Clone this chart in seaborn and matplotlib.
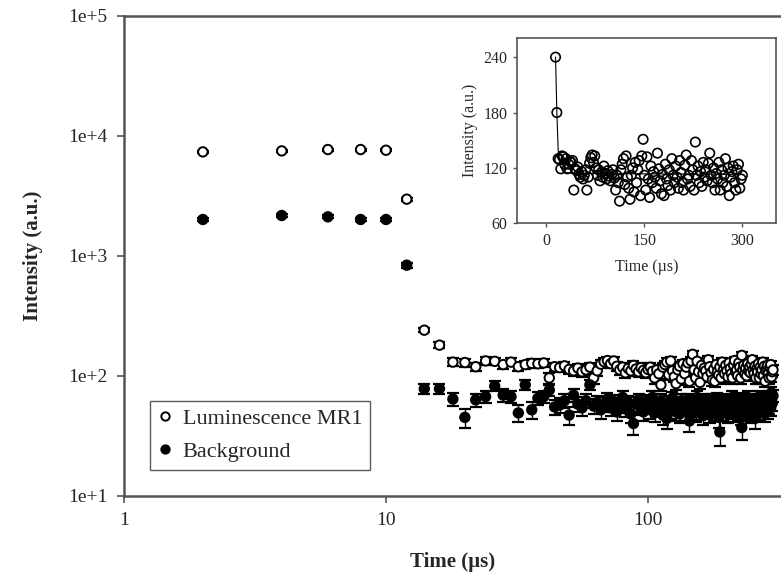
import numpy as np
import pandas as pd
import matplotlib
matplotlib.use("Agg")
import matplotlib.pyplot as plt
import seaborn as sns
from matplotlib.lines import Line2D

# ---------------- data ----------------
early_times = [2, 4, 6, 8, 10, 12]
lum_early = [7360, 7500, 7700, 7700, 7600, 2970]
bg_early = [2010, 2170, 2115, 2010, 2010, 836]
lum_err_early = [150, 150, 150, 150, 150, 90]
bg_err_early = [60, 60, 60, 60, 60, 40]

late_times = list(range(14, 301, 2))
lum_late = [240, 180, 130, 129, 119, 133, 132, 124, 130, 119, 124, 127, 126, 128, 96, 119,
            117, 121, 113, 110, 116, 108, 112, 118, 96, 110, 125, 131, 134, 126, 133, 120,
            112, 118, 106, 115, 110, 122, 114, 108, 117, 111, 106, 113, 118, 109, 96, 112,
            104, 84, 118, 124, 130, 102, 133, 110, 98, 86, 112, 120, 94, 126, 104, 118,
            128, 90, 133, 151, 112, 96, 132, 108, 88, 122, 104, 116, 110, 98, 136, 119,
            106, 92, 113, 90, 124, 108, 101, 118, 96, 130, 112, 104, 122, 110, 98, 128,
            115, 104, 96, 123, 134, 108, 112, 100, 128, 118, 96, 148, 112, 122, 104, 116,
            100, 126, 110, 118, 106, 125, 136, 112, 104, 120, 96, 114, 108, 126, 96, 118,
            104, 112, 130, 100, 120, 90, 110, 116, 122, 104, 96, 118, 124, 98, 108, 112]
bg_late = [78, 78, 64, 45, 63, 67, 82, 69, 67, 49, 84, 52, 65, 67, 76, 55,
           57, 62, 47, 69, 58, 54, 62, 84, 56, 60, 52, 58, 64, 54, 61, 50,
           57, 66, 53, 60, 48, 40, 58, 63, 55, 50, 61, 57, 52, 66, 49, 58,
           54, 62, 47, 56, 44, 60, 52, 65, 55, 50, 59, 48, 62, 54, 57, 50,
           63, 42, 58, 53, 61, 49, 66, 55, 51, 60, 47, 57, 63, 52, 58, 48,
           62, 55, 50, 59, 53, 64, 45, 34, 56, 61, 50, 58, 54, 63, 48, 57,
           60, 52, 66, 55, 49, 59, 62, 51, 56, 64, 47, 37, 58, 53, 61, 55,
           50, 66, 57, 52, 60, 48, 63, 56, 52, 44, 59, 62, 54, 58, 67, 51,
           57, 63, 53, 60, 55, 49, 64, 58, 52, 66, 56, 61, 54, 72, 59, 68]
lum_err_late = 10
bg_err_late = 8

# fitted decay curve shown in the inset
fit_t = [14, 16, 18, 20, 24, 30, 40, 300]
fit_v = [240, 180, 140, 126, 118, 115, 114, 113]

times = early_times + late_times
lum = lum_early + lum_late
bg = bg_early + bg_late
lum_err = lum_err_early + [lum_err_late] * len(late_times)
bg_err = bg_err_early + [bg_err_late] * len(late_times)

df = pd.DataFrame({"Time": times * 2,
                   "Intensity": lum + bg,
                   "err": lum_err + bg_err,
                   "Series": ["Luminescence MR1"] * len(times) + ["Background"] * len(times)})
inset_df = pd.DataFrame({"Time": late_times, "Intensity": lum_late})

# ---------------- style ----------------
sns.set_style("ticks")
plt.rcParams["font.family"] = ["Liberation Serif", "DejaVu Serif"]

fig = plt.figure(figsize=(7.81, 5.83), dpi=100)
W, H = 781, 583
ax = fig.add_axes([124 / W, 1 - 495.7 / H, (W - 124) / W, (495.7 - 16) / H])

spine_c = "#555555"
for name, sp in ax.spines.items():
    sp.set_color(spine_c)
    sp.set_linewidth(1.8)
ax.spines["right"].set_visible(False)

# error bars
for s in ["Luminescence MR1", "Background"]:
    d = df[df.Series == s]
    ax.errorbar(d.Time, d.Intensity, yerr=d.err, fmt="none", ecolor="black",
                elinewidth=1.0, capsize=4, capthick=1.6, zorder=2)

sns.scatterplot(data=df, x="Time", y="Intensity", hue="Series",
                palette={"Luminescence MR1": "white", "Background": "black"},
                marker="o", edgecolor="black", linewidth=1.4, s=46, ax=ax,
                zorder=3, legend=False)

ax.set_xscale("log")
ax.set_yscale("log")
ax.set_xlim(1, 10 ** ((W - 124) / 262))
ax.set_ylim(10, 1e5)
ax.set_xticks([1, 10, 100])
ax.set_xticklabels(["1", "10", "100"])
ax.set_yticks([1e1, 1e2, 1e3, 1e4, 1e5])
ax.set_yticklabels(["1e+1", "1e+2", "1e+3", "1e+4", "1e+5"])
ax.minorticks_off()
ax.tick_params(axis="both", which="major", direction="out", length=5, width=1.2,
               color=spine_c, labelsize=14, pad=7)
ax.set_xlabel("Time (\u00b5s)", fontsize=15, fontweight="bold", labelpad=16)
ax.set_ylabel("Intensity (a.u.)", fontsize=15, fontweight="bold", labelpad=18)

# legend
handles = [Line2D([], [], marker="o", ls="none", mfc="white", mec="black", mew=1.4, ms=6),
           Line2D([], [], marker="o", ls="none", mfc="black", mec="black", mew=1.4, ms=6)]
leg = ax.legend(handles, ["Luminescence MR1", "Background"], loc="lower left",
                bbox_to_anchor=(0.04, 0.054), borderaxespad=0, fancybox=False,
                frameon=True, fontsize=16, handlelength=0.6, handletextpad=0.5,
                borderpad=0.35, labelspacing=0.55, edgecolor="#333333")
leg.get_frame().set_linewidth(1.0)

# ---------------- inset ----------------
iax = fig.add_axes([517 / W, 1 - 223.3 / H, (775.7 - 517) / W, (223.3 - 38.3) / H])
for sp in iax.spines.values():
    sp.set_color(spine_c)
    sp.set_linewidth(1.2)
sns.lineplot(x=fit_t, y=fit_v, ax=iax, color="black", lw=0.8, zorder=2)
sns.scatterplot(data=inset_df, x="Time", y="Intensity", ax=iax, marker="o",
                facecolor="none", edgecolor="black", linewidth=1.2, s=46, zorder=3)
iax.set_xlim(-45, 351)
iax.set_ylim(60, 260.4)
iax.set_xticks([0, 150, 300])
iax.set_yticks([60, 120, 180, 240])
iax.tick_params(direction="out", length=3, width=1, color=spine_c, labelsize=11.5, pad=4)
iax.set_xlabel("Time (\u00b5s)", fontsize=11.5, labelpad=7)
iax.set_ylabel("Intensity (a.u.)", fontsize=11.5, labelpad=4)

fig.savefig("out.png", dpi=100)
